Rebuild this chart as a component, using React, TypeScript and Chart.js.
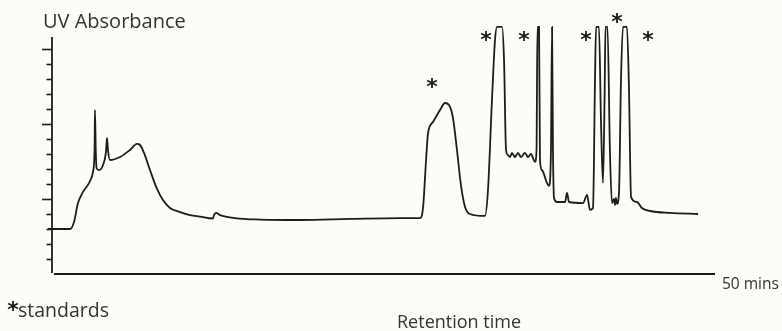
import React, { useEffect, useRef } from "react";
import { Chart, registerables } from "chart.js";

Chart.register(...registerables);

// Chromatogram trace: retention time (min) and UV absorbance (arbitrary units)
const traceTime: number[] = [
  -0.32, -0.3, 1.36, 1.66, 1.96, 2.34, 2.87, 3.09, 3.21, 3.24, 3.3, 3.36, 3.54, 3.85, 4.07, 4.15, 4.22,
  4.37, 5.13, 5.88, 6.41, 6.64, 6.94, 7.39, 7.92, 8.37, 8.9, 9.65, 10.41, 11.16, 12.14, 12.22, 12.37,
  12.67, 13.8, 15.69, 18.7, 22.47, 26.24, 27.75, 27.98, 28.21, 28.36, 28.73, 29.26, 29.64, 29.94,
  30.24, 30.54, 30.84, 31.15, 31.52, 32.65, 32.88, 33.18, 33.41, 33.56, 33.94, 34.09, 34.24, 34.39,
  34.54, 34.69, 34.92, 35.14, 35.37, 35.67, 35.9, 36.12, 36.43, 36.54, 36.61, 36.73, 36.8, 36.95,
  37.33, 37.48, 37.63, 37.71, 37.78, 37.86, 38.08, 38.69, 38.84, 38.99, 40.05, 40.35, 40.57, 40.8,
  40.95, 41.03, 41.25, 41.4, 41.55, 41.67, 41.74, 41.89, 42.08, 42.23, 42.38, 42.46, 42.53, 42.61,
  42.76, 42.91, 43.06, 43.36, 43.51, 43.67, 44.12, 44.49, 45.1, 46.61, 48.72,
];
const traceAbsorbance: number[] = [
  0.1, 3.0, 3.0, 3.47, 4.73, 5.47, 6.2, 6.8, 8.27, 10.93, 8.27, 7.07, 6.93, 7.27, 8.13, 9.07, 8.27,
  7.6, 7.8, 8.27, 8.67, 8.6, 8.07, 6.93, 5.67, 4.93, 4.4, 4.13, 3.93, 3.83, 3.7, 3.93, 4.07,
  3.93, 3.73, 3.63, 3.6, 3.67, 3.73, 3.73, 4.4, 7.6, 9.4, 10.13, 10.93, 11.4, 11.27,
  10.4, 8.27, 5.93, 4.47, 4.0, 3.87, 5.6, 11.6, 15.6, 16.47, 16.47, 14.27, 8.27, 7.93,
  7.8, 8.07, 7.8, 8.07, 7.8, 8.07, 7.8, 8.0, 7.47, 8.27, 16.47, 16.47, 7.6, 6.93,
  6.07, 5.87, 8.27, 16.47, 8.27, 5.07, 4.8, 4.8, 5.4, 4.8, 4.73, 5.27, 4.27, 4.4,
  12.93, 16.47, 16.47, 10.27, 6.07, 11.6, 16.47, 16.47, 8.07, 4.73, 5.0, 4.6, 5.07, 4.67,
  5.4, 12.93, 16.47, 16.47, 12.47, 5.13, 4.8, 4.4, 4.2, 4.07, 4.0,
];

// Peaks identified as standards (retention time, marker height)
const standardTimes: number[] = [28.66, 32.73, 35.6, 40.27, 42.61, 44.95];
const standardHeights: number[] = [12.67, 15.8, 15.8, 15.8, 17.0, 15.8];

// Absorbance axis ticks (unlabelled); every fifth tick is longer
const yTicks: number[] = [1, 2, 3, 4, 5, 6, 7, 8, 9, 10, 11, 12, 13, 14, 15];
const yMajorTicks: number[] = [5, 10, 15];
const yAxisTop = 15.8;
const timeMax = 50;

const INK = "#1c1c1c";
const TEXT = "#333333";
const FONT = "'Open Sans', 'DejaVu Sans', sans-serif";

const decorations = {
  id: "chromatogramDecorations",
  beforeDraw(chart: Chart) {
    const { ctx, width, height } = chart;
    ctx.save();
    ctx.fillStyle = "#fdfcf8";
    ctx.fillRect(0, 0, width, height);
    ctx.restore();
  },
  afterDraw(chart: Chart) {
    const { ctx } = chart;
    const xs = chart.scales.x;
    const ys = chart.scales.y;
    const x0 = xs.getPixelForValue(0);
    const y0 = ys.getPixelForValue(0);
    ctx.save();
    ctx.strokeStyle = INK;
    ctx.lineCap = "butt";

    // absorbance axis
    ctx.lineWidth = 1.8;
    ctx.beginPath();
    ctx.moveTo(x0, ys.getPixelForValue(yAxisTop));
    ctx.lineTo(x0, y0 - 1);
    ctx.stroke();
    ctx.lineWidth = 1.6;
    for (const t of yTicks) {
      const y = Math.round(ys.getPixelForValue(t)) + 0.5;
      const len = yMajorTicks.includes(t) ? 10 : 5.5;
      ctx.beginPath();
      ctx.moveTo(x0 - len, y);
      ctx.lineTo(x0, y);
      ctx.stroke();
    }

    // time axis
    ctx.lineWidth = 2;
    ctx.beginPath();
    ctx.moveTo(xs.getPixelForValue(0.15), y0);
    ctx.lineTo(xs.getPixelForValue(timeMax), y0);
    ctx.stroke();

    // labels
    ctx.fillStyle = TEXT;
    ctx.textBaseline = "alphabetic";
    ctx.textAlign = "left";
    ctx.font = `20px ${FONT}`;
    ctx.fillText("UV Absorbance", 43, 28);
    ctx.font = `15.5px ${FONT}`;
    ctx.fillText("50 mins", xs.getPixelForValue(timeMax) + 7, 289);
    ctx.font = `18px ${FONT}`;
    ctx.fillText("Retention time", 397, 328);
    ctx.font = `19.5px ${FONT}`;
    ctx.fillText("standards", 18, 317);
    ctx.font = `bold 22px 'DejaVu Sans', sans-serif`;
    ctx.fillStyle = INK;
    ctx.textAlign = "center";
    ctx.textBaseline = "middle";
    ctx.fillText("*", 13, 311);

    // standard markers
    standardTimes.forEach((t, i) => {
      ctx.fillText("*", xs.getPixelForValue(t), ys.getPixelForValue(standardHeights[i]) + 4);
    });
    ctx.restore();
  },
};

export default function App() {
  const canvasRef = useRef<HTMLCanvasElement | null>(null);

  useEffect(() => {
    const canvas = canvasRef.current;
    if (!canvas) return;
    const points = traceTime.map((t, i) => ({ x: t, y: traceAbsorbance[i] }));
    const chart = new Chart(canvas, {
      type: "scatter",
      data: {
        datasets: [
          {
            data: points,
            showLine: true,
            borderColor: INK,
            borderWidth: 1.8,
            pointRadius: 0,
            cubicInterpolationMode: "monotone",
            clip: false,
          },
        ],
      },
      options: {
        responsive: false,
        animation: false,
        devicePixelRatio: 1,
        layout: { padding: { left: 52, right: 67, top: 4, bottom: 57 } },
        scales: {
          x: { type: "linear", min: 0, max: timeMax, display: false },
          y: { type: "linear", min: 0, max: 18, display: false },
        },
        plugins: {
          legend: { display: false },
          tooltip: { enabled: false },
        },
      },
      plugins: [decorations],
    });
    return () => chart.destroy();
  }, []);

  return (
    <div style={{ position: "absolute", left: 0, top: 0, width: 782, height: 331 }}>
      <canvas ref={canvasRef} width={782} height={331} />
    </div>
  );
}
